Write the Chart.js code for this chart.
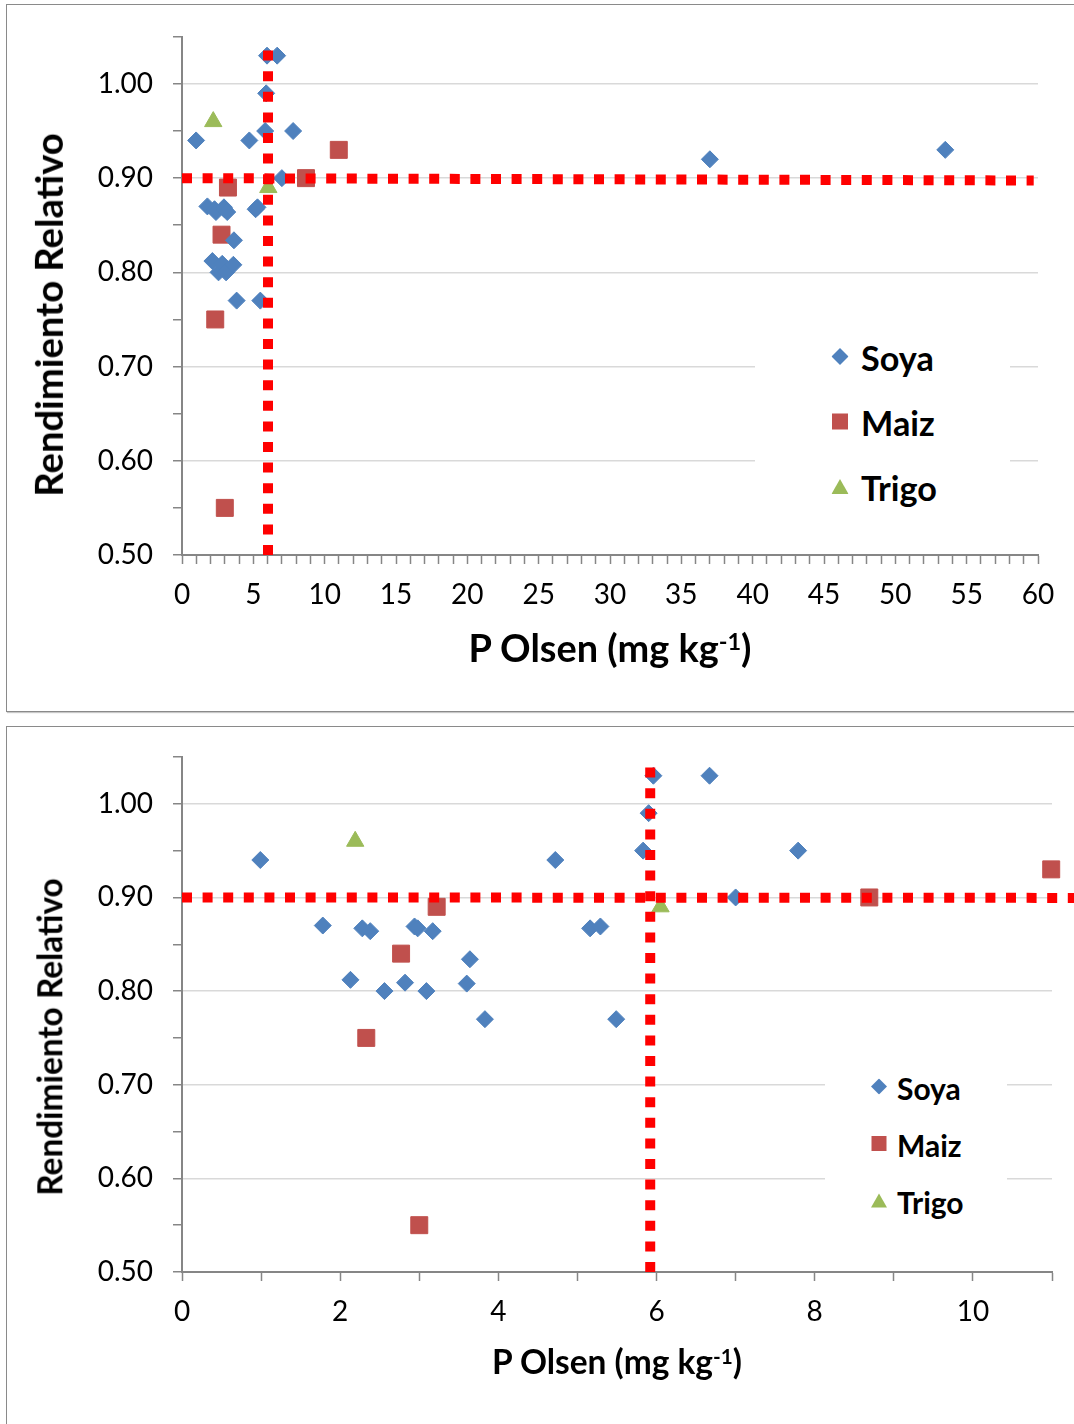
<!DOCTYPE html>
<html lang="es">
<head>
<meta charset="utf-8">
<title>Rendimiento relativo vs P Olsen</title>
<script src="https://cdn.jsdelivr.net/npm/chart.js@4.4.1/dist/chart.umd.min.js"></script>
<style>
  body { margin: 0; width: 1074px; height: 1424px; position: relative; overflow: hidden; background: #fff; font-family: Lato, "Open Sans", sans-serif; }
  .panel { position: absolute; left: 6px; width: 1100px; box-sizing: border-box; border: 1.5px solid #8a8a8a; box-shadow: 1px 1px 1px #c8c8c8; }
  canvas { position: absolute; left: 0; }
  .titulo { position: absolute; font-weight: bold; color: #000; white-space: nowrap; line-height: 1; }
  .ytitle { transform: translate(-50%, -50%) rotate(-90deg); }
  .xtitle { transform: translate(-50%, -50%); }
  .xtitle sup { font-size: 0.62em; vertical-align: 0.5em; line-height: 0; }
  .leyenda { position: absolute; background: #fff; }
  .item { position: absolute; font-weight: bold; color: #000; white-space: nowrap; line-height: 1; transform: translateY(-50%); }
  .marca { position: absolute; transform: translate(-50%, -50%); }
</style>
</head>
<body>
<div class="panel" style="top:4px; height:708px;"></div>
<div class="panel" style="top:726px; height:720px;"></div>
<canvas id="grafico-completo" width="1074" height="712" style="top:0;"></canvas>
<canvas id="grafico-detalle" width="1074" height="706" style="top:718px;"></canvas>

<script>
// Datos
const seriesNames = ['Soya', 'Maiz', 'Trigo'];

const soyaX = [0.99, 1.78, 2.13, 2.28, 2.38, 2.56, 2.82, 2.94, 2.98, 3.09, 3.17, 3.60, 3.64, 3.83,
               4.72, 5.16, 5.29, 5.49, 5.83, 5.90, 5.96, 6.67, 7.00, 7.79, 37.0, 53.5];
const soyaY = [0.94, 0.87, 0.812, 0.867, 0.864, 0.80, 0.809, 0.869, 0.867, 0.80, 0.864, 0.808, 0.834, 0.77,
               0.94, 0.867, 0.869, 0.77, 0.95, 0.99, 1.03, 1.03, 0.90, 0.95, 0.92, 0.93];

const maizX = [2.33, 2.77, 3.00, 3.22, 8.69, 10.99];
const maizY = [0.75, 0.84, 0.55, 0.89, 0.90, 0.93];

const trigoX = [2.19, 6.05];
const trigoY = [0.96, 0.89];

// Líneas de nivel crítico (rojas punteadas)
const nivelX = [0, 59.7];
const nivelY = [0.90, 0.8975];
const criticoP = [6.03, 5.92];      // gráfico completo, gráfico detalle
const criticoY = [0.50, 1.04];

// Ejes
const yMin = 0.5, yMax = 1.05;
const xMaxCompleto = 60, xMaxDetalle = 11;

// Estilos
const colores = ['#4F81BD', '#C0504D', '#9BBB59'];
const formas = ['rectRot', 'rect', 'triangle'];
const radios = [8.5, 12, 10];
const fuente = 'Lato, "Open Sans", sans-serif';

function pares(xs, ys) {
    return xs.map((x, i) => ({ x: x, y: ys[i] }));
}

function esMayor(v) {
    return Math.round(v * 100) % 10 === 0;
}

function lineaRoja(data, clip) {
    return {
        label: '',
        data: data,
        showLine: true,
        pointRadius: 0,
        borderColor: '#FF0000',
        borderWidth: 10,
        borderDash: [10, 10.6],
        borderCapStyle: 'butt',
        clip: clip
    };
}

function crearGrafico(id, cfg) {
    const serieX = [soyaX, maizX, trigoX];
    const serieY = [soyaY, maizY, trigoY];

    // las líneas van primero para quedar encima de los puntos
    const datasets = [
        lineaRoja(pares(nivelX, nivelY), cfg.clipNivel),
        lineaRoja(pares([cfg.critico, cfg.critico], criticoY), 0)
    ];
    seriesNames.forEach((nombre, i) => {
        datasets.push({
            label: nombre,
            data: pares(serieX[i], serieY[i]),
            pointStyle: formas[i],
            pointRadius: radios[i],
            backgroundColor: colores[i],
            borderColor: colores[i],
            borderWidth: 1,
            clip: false
        });
    });

    const eje = { color: '#868686', width: 2 };
    const letra = { family: fuente, size: 28 };

    return new Chart(document.getElementById(id), {
        type: 'scatter',
        data: { datasets: datasets },
        options: {
            responsive: false,
            animation: false,
            devicePixelRatio: 1,
            layout: { padding: { left: 0, top: cfg.top, right: cfg.right, bottom: 0 } },
            plugins: { legend: { display: false }, tooltip: { enabled: false } },
            scales: {
                x: {
                    type: 'linear',
                    min: 0,
                    max: cfg.xMax,
                    afterFit: s => { s.height = cfg.altoEjeX; },
                    border: eje,
                    grid: { drawOnChartArea: false, tickLength: 9, tickColor: '#868686', tickWidth: 1.5 },
                    ticks: {
                        stepSize: 1, autoSkip: false, maxTicksLimit: 200, maxRotation: 0,
                        padding: 14, color: '#000', font: letra,
                        callback: v => (v % cfg.cadaX === 0 ? String(v) : '')
                    }
                },
                y: {
                    min: yMin,
                    max: yMax,
                    afterFit: s => { s.width = 182; },
                    border: eje,
                    grid: {
                        color: c => (c.tick && esMayor(c.tick.value) ? '#D9D9D9' : 'rgba(0,0,0,0)'),
                        lineWidth: 1.5,
                        tickLength: 9,
                        tickColor: '#868686',
                        tickWidth: 1.5
                    },
                    ticks: {
                        stepSize: 0.05, autoSkip: false, maxTicksLimit: 50,
                        padding: 20, color: '#000', font: letra,
                        callback: v => (esMayor(v) ? v.toFixed(2) : '')
                    }
                }
            }
        }
    });
}

// Ajusta el tamaño de letra para que el texto ocupe el ancho dado
function ajustar(el, ancho) {
    el.style.fontSize = '30px';
    const w = el.offsetWidth;
    el.style.fontSize = (30 * ancho / w) + 'px';
    return 30 * ancho / w;
}

function titulo(clase, html, cx, cy, ancho) {
    const el = document.createElement('div');
    el.className = 'titulo ' + clase;
    el.innerHTML = html;
    el.style.left = cx + 'px';
    el.style.top = cy + 'px';
    document.body.appendChild(el);
    ajustar(el, ancho);
}

function marcaSVG(forma, color, t) {
    let fig;
    if (forma === 'rectRot') {
        fig = `<polygon points="${t/2},0 ${t},${t/2} ${t/2},${t} 0,${t/2}" fill="${color}"/>`;
    } else if (forma === 'rect') {
        fig = `<rect x="0.5" y="0.5" width="${t-1}" height="${t-1}" fill="${color}"/>`;
    } else {
        fig = `<polygon points="${t/2},1 ${t},${t-1} 0,${t-1}" fill="${color}"/>`;
    }
    return `<svg width="${t}" height="${t}" viewBox="0 0 ${t} ${t}">${fig}</svg>`;
}

function leyenda(caja, filas, xMarca, xTexto, anchoSoya, tMarca) {
    const box = document.createElement('div');
    box.className = 'leyenda';
    box.style.left = caja[0] + 'px';
    box.style.top = caja[1] + 'px';
    box.style.width = caja[2] + 'px';
    box.style.height = caja[3] + 'px';
    document.body.appendChild(box);

    let tam = 30;
    seriesNames.forEach((nombre, i) => {
        const m = document.createElement('div');
        m.className = 'marca';
        m.style.left = xMarca + 'px';
        m.style.top = filas[i] + 'px';
        m.innerHTML = marcaSVG(formas[i], colores[i], tMarca);
        document.body.appendChild(m);

        const t = document.createElement('div');
        t.className = 'item';
        t.textContent = nombre;
        t.style.left = xTexto + 'px';
        t.style.top = filas[i] + 'px';
        document.body.appendChild(t);
        if (i === 0) tam = ajustar(t, anchoSoya);
        else t.style.fontSize = tam + 'px';
    });
}

document.addEventListener('DOMContentLoaded', function() {
    crearGrafico('grafico-completo', {
        xMax: xMaxCompleto, cadaX: 5, critico: criticoP[0],
        top: 32, right: 36, altoEjeX: 157, clipNivel: 0
    });
    crearGrafico('grafico-detalle', {
        xMax: xMaxDetalle, cadaX: 2, critico: criticoP[1],
        top: 39, right: 22, altoEjeX: 152, clipNivel: false
    });

    const ejeX = 'P Olsen (mg kg<sup>-1</sup>)';
    const ejeY = 'Rendimiento Relativo';

    titulo('ytitle', ejeY, 48, 315, 364);
    titulo('xtitle', ejeX, 610, 648, 283);
    leyenda([755, 325, 255, 195], [358, 423, 488], 840, 861, 73, 17);

    titulo('ytitle', ejeY, 50, 1037, 318);
    titulo('xtitle', ejeX, 617, 1362, 250);
    leyenda([825, 1060, 182, 170], [1088, 1145, 1202], 879, 897, 64, 16);
});
</script>
</body>
</html>
